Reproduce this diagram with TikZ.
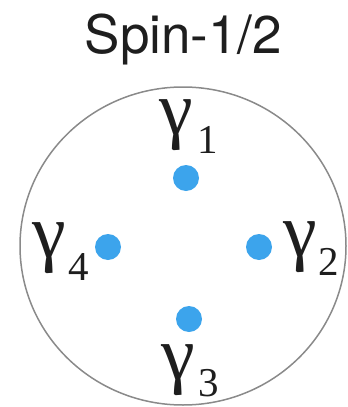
\documentclass[tikz,border=0pt]{standalone}
\usepackage{fontspec}
\setmainfont{Liberation Serif}
\newfontfamily\titlefont{TeX Gyre Heros}
\usetikzlibrary{calc,positioning}
\definecolor{rim}{HTML}{8A8A8A}
\definecolor{dotblue}{HTML}{3CA4EC}
\definecolor{ink}{HTML}{1E1E1E}

\begin{document}
\begin{tikzpicture}[x=1pt, y=-1pt, text=ink,
  site/.style={circle, fill=dotblue, inner sep=0pt, minimum size=26pt},
  glab/.style={inner sep=0pt, font=\fontsize{76}{76}\selectfont},
  sub/.style={inner sep=0pt, anchor=south west, font=\fontsize{41}{41}\selectfont}]
  \useasboundingbox (0,0) rectangle (348,407);

  \node[anchor=base, inner sep=0pt, font=\titlefont\fontsize{53}{53}\selectfont] (title) at (183.5,53) {Spin-1/2};
  \draw[rim, line width=1.5pt] (183,246) ellipse (163 and 159);

  % four sites
  \node[site] (s1) at (186,178) {};
  \node[site] (s2) at (259,247) {};
  \node[site] (s3) at (189,319) {};
  \node[site] (s4) at (108,247) {};

  % labels
  \node[glab] (g1) at (176,125) {γ};
  \node[sub] (i1) at ($(g1.south east)+(4,3)$) {1};
  \node[glab] (g2) at (300,247) {γ};
  \node[sub] (i2) at ($(g2.south east)+(1,3)$) {2};
  \node[glab] (g3) at (178,370) {γ};
  \node[sub] (i3) at ($(g3.south east)+(3,1)$) {3};
  \node[glab] (g4) at (49,248) {γ};
  \node[sub] (i4) at ($(g4.south east)+(2,7)$) {4};
\end{tikzpicture}
\end{document}
